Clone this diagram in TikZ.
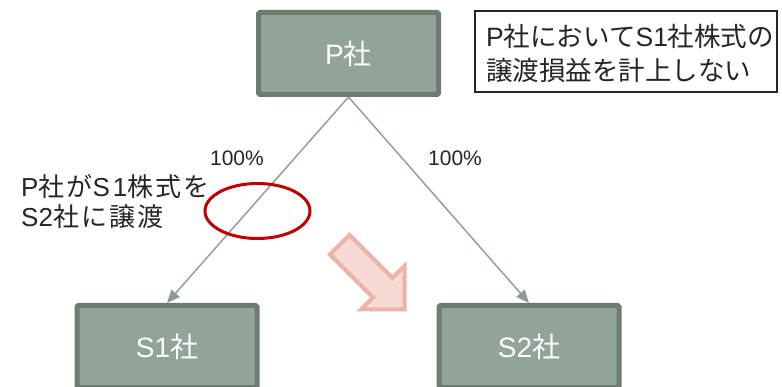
\documentclass[tikz,border=0pt]{standalone}
\usepackage{fontspec}
\setmainfont{Noto Sans CJK JP}
\newfontfamily\lat{Liberation Sans}
\usetikzlibrary{arrows.meta}
\definecolor{boxfill}{HTML}{92A398}
\definecolor{boxedge}{HTML}{6E7B71}
\definecolor{linkc}{HTML}{8C9C91}
\definecolor{ringc}{HTML}{C00000}
\definecolor{pinkfill}{HTML}{F8DAD5}
\definecolor{pinkedge}{HTML}{ECB4A9}
\definecolor{txt}{HTML}{262626}
\begin{document}
\begin{tikzpicture}[x=1pt,y=-1pt,
  company/.style={draw=boxedge, fill=boxfill, line width=5pt, rounded corners=1.5pt,
    minimum width=180pt, minimum height=82pt, text=white, font=\fontsize{28}{32}\selectfont, inner sep=0pt},
  link/.style={draw=linkc, line width=1.4pt, -{Triangle[length=13pt,width=11pt]}},
  label/.style={text=txt, font=\fontsize{21}{24}\selectfont, inner sep=0pt},
  note/.style={text=txt, font=\fontsize{26.5}{34}\selectfont, inner sep=0pt, align=left}]
\useasboundingbox (0,0) rectangle (782,387);
\fill[white] (0,0) rectangle (782,387);
% boxes
\node[company] (P) at (348.5,53.5) {{\lat P}社};
\node[company] (S1) at (167,346.5) {{\lat S1}社};
\node[company] (S2) at (529,346.5) {{\lat S2}社};
% connectors
\draw[link] (P.south) -- (S1.north);
\draw[link] (P.south) -- (S2.north);
% percentages
\node[label] (pa) at (237,158) {{\lat 100\%}};
\node[label] (pb) at (455,158) {{\lat 100\%}};
% note box
\node[draw=txt, line width=2pt, minimum width=302pt, minimum height=81pt, inner sep=0pt] (nb) at (626,51.5) {};
\node[note, anchor=west] (nt) at (486,53) {{\lat P}社において{\lat S1}社株式の\\譲渡損益を計上しない};
% left text
\node[note, anchor=west, font=\fontsize{26}{30}\selectfont\addfontfeature{LetterSpace=8}] (lt) at (21,202) {{\lat P}社が{\lat S\hspace{3pt}1}株式を\\{\lat S2}社に譲渡};
% red ellipse
\draw[ringc, line width=3pt] (257.5,211) ellipse [x radius=52.5, y radius=27.5];
% pink arrow
\draw[pinkedge, fill=pinkfill, line width=4pt, line join=miter]
  (404.5,309.5) -- (404.5,266) -- (392.5,278) -- (349.5,235) -- (330,254.5) -- (373,297.5) -- (361,309.5) -- cycle;
\end{tikzpicture}
\end{document}
